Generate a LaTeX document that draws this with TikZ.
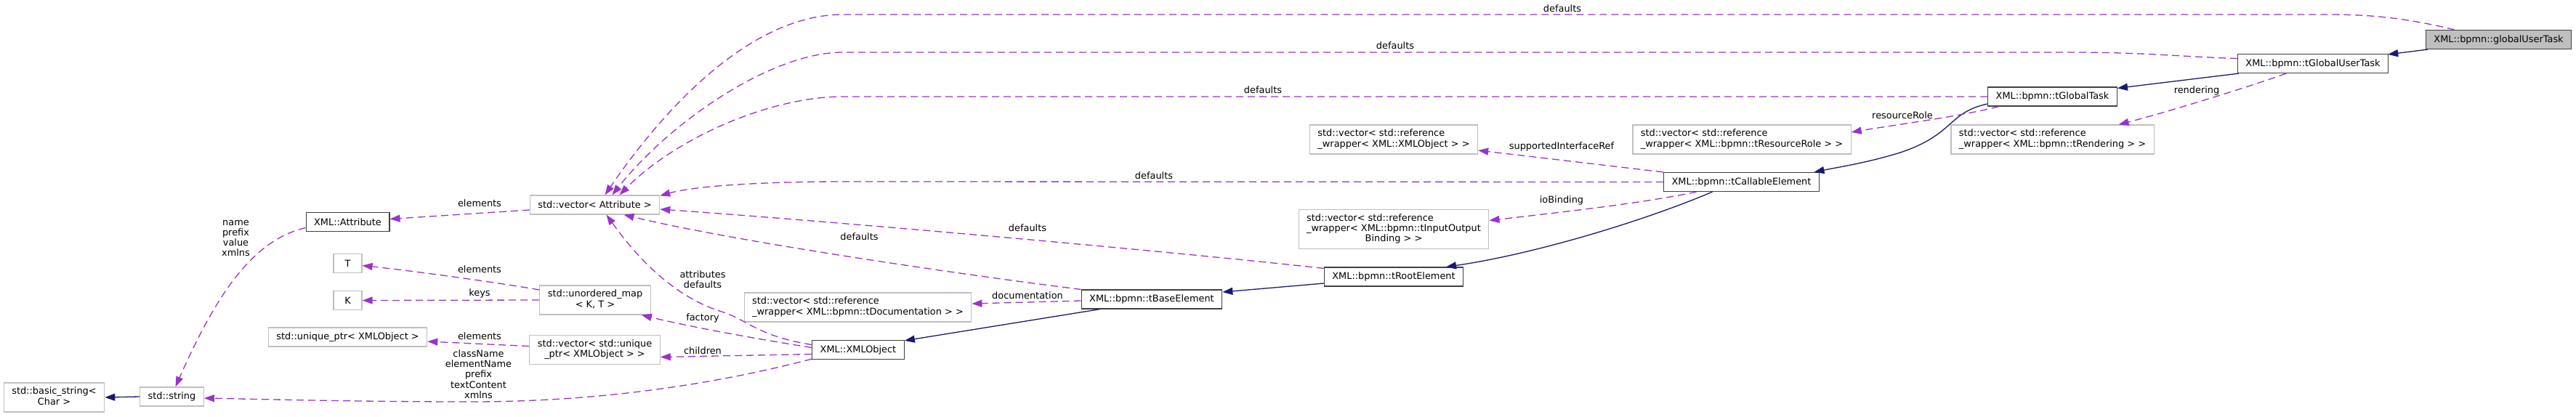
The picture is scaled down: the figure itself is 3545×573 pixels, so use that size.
\documentclass[tikz,border=0pt]{standalone}
\usepackage{fontspec}
\setmainfont{DejaVu Sans}
\usetikzlibrary{arrows.meta}
\definecolor{inhblue}{HTML}{191970}
\definecolor{usepurple}{HTML}{9A32CD}
\definecolor{extgray}{HTML}{BFBFBF}
\definecolor{docgray}{HTML}{404040}
\newcommand{\mlines}[2]{\begin{tabular}{@{}l@{}}#1\\\multicolumn{1}{@{}c@{}}{#2}\end{tabular}}
\begin{document}
\begin{tikzpicture}[x=1pt,y=-1pt,font=\fontsize{12.9}{14.3}\selectfont,
  cls/.style={draw=docgray,fill=white,line width=1.2pt,inner xsep=11pt,inner ysep=5.7pt,minimum height=26pt},
  ext/.style={cls,draw=extgray},
  self/.style={cls,draw=docgray,fill=extgray},
  inh/.style={draw=inhblue,line width=1.3pt,-{Triangle[length=14pt,width=10pt]}},
  use/.style={draw=usepurple,line width=1.3pt,dash pattern=on 10pt off 6pt,-{Triangle[length=14pt,width=10pt]}},
  lbl/.style={inner sep=0pt,align=center}]
\useasboundingbox (0,0) rectangle (3545,573);
% classes
\node[self] (gut) at (3438.5,54.5) {XML::bpmn::globalUserTask};
\node[cls] (tgut) at (3183,87.5) {XML::bpmn::tGlobalUserTask};
\node[cls] (tgt) at (2824.5,133) {XML::bpmn::tGlobalTask};
\node[ext] (vrend) at (2824.5,192) {\mlines{std::vector< std::reference}{\_wrapper< XML::bpmn::tRendering > >}};
\node[ext] (vrole) at (2397,192) {\mlines{std::vector< std::reference}{\_wrapper< XML::bpmn::tResourceRole > >}};
\node[ext] (vxo) at (1918,192) {\mlines{std::vector< std::reference}{\_wrapper< XML::XMLObject > >}};
\node[cls] (tce) at (2396.5,250.5) {XML::bpmn::tCallableElement};
\node[ext] (vio) at (1918,315.5) {\mlines{std::vector< std::reference\\\_wrapper< XML::bpmn::tInputOutput}{Binding > >}};
\node[cls] (tre) at (1918,381) {XML::bpmn::tRootElement};
\node[cls] (tbe) at (1585,412) {XML::bpmn::tBaseElement};
\node[ext] (vdoc) at (1180.5,423) {\mlines{std::vector< std::reference}{\_wrapper< XML::bpmn::tDocumentation > >}};
\node[cls] (xo) at (1181,481.5) {XML::XMLObject};
\node[ext] (vattr) at (818.5,282) {std::vector< Attribute >};
\node[ext] (umap) at (819,413) {\mlines{std::unordered\_map}{< K, T >}};
\node[ext] (vup) at (818.5,481.5) {\mlines{std::vector< std::unique}{\_ptr< XMLObject > >}};
\node[cls] (attr) at (478.5,305.5) {XML::Attribute};
\node[ext,minimum width=39pt] (tt) at (478.5,362.5) {T};
\node[ext,minimum width=39pt] (kk) at (478.5,413.5) {K};
\node[ext] (uptr) at (478.5,464) {std::unique\_ptr< XMLObject >};
\node[ext] (str) at (236.5,546) {std::string};
\node[ext] (bstr) at (74.5,547) {\mlines{std::basic\_string<}{Char >}};
% inheritance
\draw[inh] ([xshift=3pt]gut.south west) -- ([xshift=-1pt,yshift=-1pt]tgut.north east);
\draw[inh] ([xshift=2pt]tgut.south west) -- ([yshift=-2pt]tgt.north east);
\draw[inh] ([yshift=-10pt]tgt.west) .. controls (2680,155) and (2690,185) .. (2615,210) .. controls (2570,224) and (2530,230) .. ([xshift=100pt]tce.north);
\draw[inh] ([xshift=-40pt]tce.south) .. controls (2260,305) and (2110,350) .. ([xshift=72pt]tre.north);
\draw[inh] ([yshift=-9pt]tre.west) -- ([yshift=10pt]tbe.east);
\draw[inh] ([xshift=26pt]tbe.south west) -- ([yshift=-1pt]xo.north east);
\draw[inh] (str.west) -- (bstr.east);
% usage
\draw[use] ([xshift=-61pt]gut.north) .. controls (3300,22) and (3250,20) .. (3200,20) -- (1160,20) .. controls (1030,20) and (910,155) .. ([xshift=14pt]vattr.north);
\draw[use] ([yshift=7pt]tgut.west) .. controls (3000,78) and (2950,72) .. (2850,72) -- (1160,72) .. controls (1060,72) and (920,170) .. ([xshift=24pt]vattr.north);
\draw[use] ([xshift=-37pt]tgut.south) .. controls (3100,118) and (2980,155) .. ([xshift=91pt]vrend.north);
\draw[use] (tgt.west) -- (1160,133) .. controls (1060,133) and (930,190) .. ([xshift=34pt]vattr.north);
\draw[use] ([xshift=-74pt]tgt.south) .. controls (2700,160) and (2600,173) .. ([yshift=10pt]vrole.east);
\draw[use] (tce.north west) -- ([yshift=-15pt]vxo.east);
\draw[use] ([xshift=-62pt]tce.south) .. controls (2260,280) and (2140,293) .. ([yshift=12pt]vio.east);
\draw[use] (tce.west) -- (1160,250) .. controls (1060,250) and (960,255) .. ([yshift=-1pt]vattr.north east);
\draw[use] ([yshift=-2pt]tre.north west) .. controls (1600,345) and (1150,305) .. ([yshift=-6pt]vattr.east);
\draw[use] ([yshift=-2pt]tbe.west) -- ([yshift=5pt]vdoc.east);
\draw[use] (tbe.north west) .. controls (1300,375) and (1000,330) .. ([xshift=40pt]vattr.south);
\draw[use] ([yshift=7pt]xo.west) .. controls (1040,462) and (1030,440) .. (990,428) .. controls (920,405) and (870,345) .. ([xshift=16pt]vattr.south);
\draw[use] ([yshift=3pt]xo.west) .. controls (1050,468) and (950,450) .. ([xshift=-13pt]umap.south east);
\draw[use] ([yshift=-6pt]xo.west) -- ([yshift=-10pt]vup.east);
\draw[use] ([yshift=1pt]xo.south west) .. controls (980,530) and (820,553) .. (650,553) .. controls (500,553) and (380,550) .. ([yshift=-2pt]str.east);
\draw[use] ([yshift=-7pt]vattr.west) -- ([yshift=4pt]attr.east);
\draw[use] ([yshift=14pt]umap.west) .. controls (680,388) and (560,372) .. ([yshift=-3pt]tt.east);
\draw[use] (umap.west) -- (kk.east);
\draw[use] ([yshift=5pt]vup.west) -- ([yshift=-6pt]uptr.east);
\draw[use] ([yshift=-8pt]attr.west) .. controls (350,330) and (300,400) .. ([xshift=5pt]str.north);
% labels
\node[lbl] (ldefa) at (2150,12) {defaults};
\node[lbl] (ldefb) at (1920,63) {defaults};
\node[lbl] (ldefc) at (1738,124) {defaults};
\node[lbl] (ldefd) at (1588,242) {defaults};
\node[lbl] (ldefe) at (1414,314) {defaults};
\node[lbl] (ldeff) at (1182.5,326) {defaults};
\node[lbl] (lrend) at (3023,125) {rendering};
\node[lbl] (lrole) at (2618,159) {resourceRole};
\node[lbl] (lsup) at (2149,202) {supportedInterfaceRef};
\node[lbl] (lio) at (2149,276) {ioBinding};
\node[lbl] (ldoc) at (1414,407) {documentation};
\node[lbl] (lattrdef) at (967,385) {attributes\\defaults};
\node[lbl] (lfac) at (967,438) {factory};
\node[lbl] (lchild) at (967,483) {children};
\node[lbl] (lelem) at (660,280) {elements};
\node[lbl] (lelemt) at (660,371) {elements};
\node[lbl] (lkeys) at (660,404) {keys};
\node[lbl] (lelemup) at (660,463) {elements};
\node[lbl] (lxo) at (658.5,515) {className\\elementName\\prefix\\textContent\\xmlns};
\node[lbl] (lattr) at (324.5,328) {name\\prefix\\value\\xmlns};
\end{tikzpicture}
\end{document}
